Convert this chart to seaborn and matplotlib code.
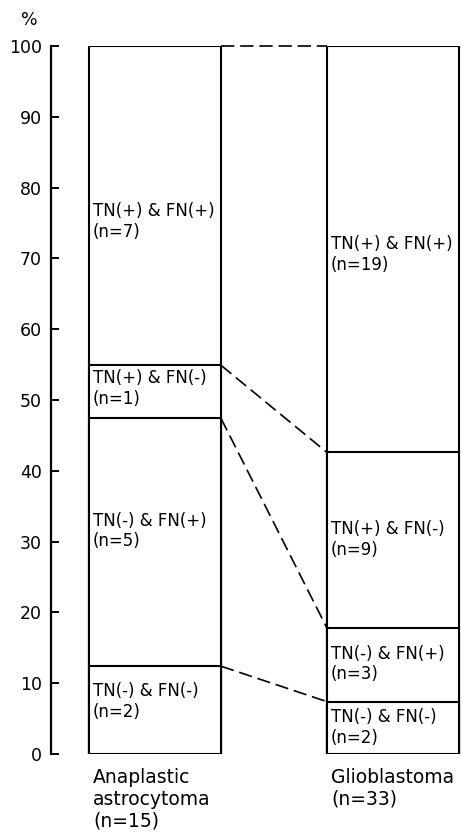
import numpy as np
import pandas as pd
import matplotlib
matplotlib.use("Agg")
import matplotlib.pyplot as plt
import seaborn as sns

# ---------------- data ----------------
groups = ["Anaplastic\nastrocytoma\n(n=15)", "Glioblastoma\n(n=33)"]
categories = ["TN(-) & FN(-)", "TN(-) & FN(+)", "TN(+) & FN(-)", "TN(+) & FN(+)"]
counts_aa = [2, 5, 1, 7]
counts_gb = [2, 3, 9, 19]
pct_aa = [12.4, 35.0, 7.5, 45.1]
pct_gb = [7.4, 10.4, 24.8, 57.4]
yticks = [0, 10, 20, 30, 40, 50, 60, 70, 80, 90, 100]

# ---------------- layout ----------------
label_y_aa = [7.4, 31.5, 51.6, 75.2]
label_y_gb = [3.7, 12.7, 30.3, 70.6]
W = 0.555

df = pd.DataFrame({
    "group": np.repeat(groups, len(categories)),
    "category": categories * 2,
    "pct": pct_aa + pct_gb,
    "n": counts_aa + counts_gb,
})
df["top"] = df.groupby("group", sort=False)["pct"].cumsum()

fig = plt.figure(figsize=(4.63, 8.33), dpi=100)
ax = fig.add_axes([51 / 463, 79 / 833, (461 - 51) / 463, 708 / 833])

# stacked bars: draw cumulative tops from largest to smallest
for cat in reversed(categories):
    sub = df[df["category"] == cat]
    sns.barplot(data=sub, x="group", y="top", order=groups, color="white",
                saturation=1, edgecolor="black", linewidth=1.5, width=W,
                errorbar=None, ax=ax)

# dashed connectors between stack boundaries
top_aa = df[df["group"] == groups[0]]["top"].to_numpy()
top_gb = df[df["group"] == groups[1]]["top"].to_numpy()
for a, b in zip(top_aa, top_gb):
    ax.plot([0 + W / 2, 1 - W / 2], [a, b], color="black", lw=1.2,
            dashes=(8, 3.5), clip_on=False, zorder=5)

# segment labels
for gi, (cnts, lys) in enumerate([(counts_aa, label_y_aa), (counts_gb, label_y_gb)]):
    for cat, n, ly in zip(categories, cnts, lys):
        ax.text(gi - W / 2 + 0.017, ly, f"{cat}\n(n={n})", ha="left", va="center",
                fontsize=12, zorder=6)

ax.set_ylim(0, 100)
ax.set_xlim(-0.437, 1.286)
ax.set_yticks(yticks)
ax.set_yticklabels([str(t) for t in yticks])
ax.tick_params(axis="y", direction="in", length=6, width=1.4, labelsize=12.5, pad=6.5)

ax.set_xticks([i - W / 2 + 0.017 for i in range(len(groups))])
ax.set_xticklabels(groups, ha="left", fontsize=13.5)
ax.tick_params(axis="x", length=0, pad=10)

ax.set_xlabel("")
ax.set_ylabel("")
for s in ["top", "right", "bottom"]:
    ax.spines[s].set_visible(False)
ax.spines["left"].set_linewidth(1.6)
ax.spines["left"].set_bounds(0, 100)

fig.text(29 / 463, 1 - 20 / 833, "%", ha="center", va="center", fontsize=12.5)

fig.savefig("out.png", dpi=100)
